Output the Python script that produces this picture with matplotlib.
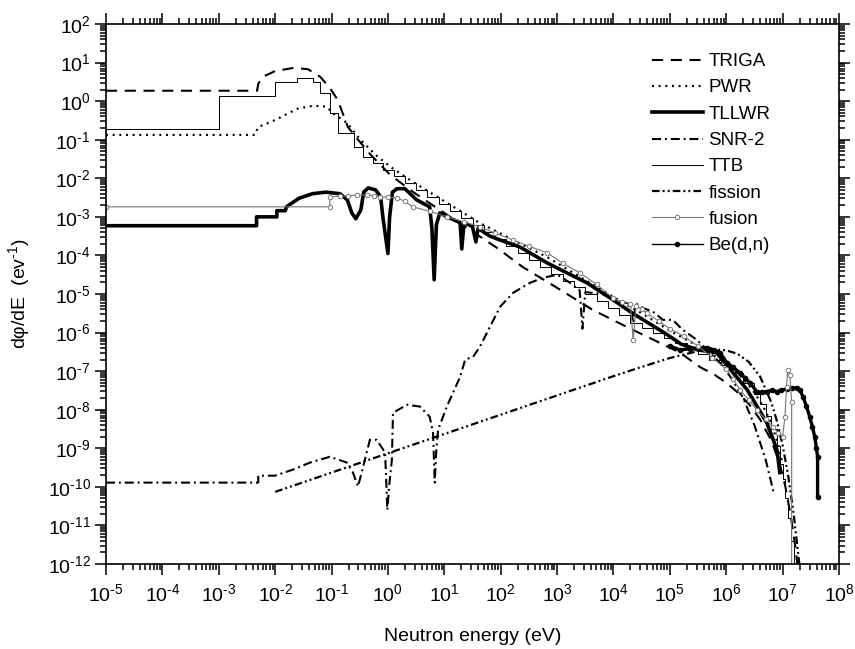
import numpy as np
import matplotlib
matplotlib.use("Agg")
import matplotlib.pyplot as plt
from matplotlib.ticker import LogLocator, NullFormatter, FuncFormatter

plt.rcParams['font.family'] = ['Liberation Sans', 'DejaVu Sans']
plt.rcParams['mathtext.fontset'] = 'custom'
plt.rcParams['mathtext.rm'] = 'Liberation Sans'
plt.rcParams['mathtext.it'] = 'Liberation Sans:italic'
plt.rcParams['mathtext.bf'] = 'Liberation Sans:bold'
plt.rcParams['lines.scale_dashes'] = False

# all values as log10(E/eV) and log10(dphi/dE)
triga_x = [-5, -2.32, -2.3, -2.22, -2.0, -1.68, -1.42, -1.2, -1.03, -0.89, -0.71, -0.53, -0.3,
           0.04, 0.44, 1.0, 1.93, 2.39, 3.0, 3.63, 4.3, 4.8, 5.18, 5.53, 5.8, 6.0, 6.2, 6.4,
           6.6, 6.8, 6.95, 7.05, 7.15, 7.22, 7.27]
triga_y = [0.27, 0.27, 0.45, 0.63, 0.78, 0.86, 0.83, 0.63, 0.34, 0.03, -0.67, -1.0, -1.4,
           -1.91, -2.35, -2.9, -3.8, -4.3, -4.84, -5.41, -5.9, -6.25, -6.52, -6.89, -7.1, -7.3,
           -7.55, -7.85, -8.25, -8.8, -9.4, -10.0, -10.8, -11.5, -12.1]

pwr_x = [-5, -2.36, -2.3, -2.0, -1.61, -1.33, -1.09, -0.98, -0.72, -0.49, -0.19, 0.08, 0.44,
         1.05, 1.63, 2.22, 2.82, 3.4, 3.99, 4.5, 5.0, 5.5, 5.9, 6.2, 6.45, 6.65, 6.8, 6.92, 7.0]
pwr_y = [-0.876, -0.876, -0.67, -0.49, -0.2, -0.12, -0.14, -0.31, -0.57, -1.0, -1.43, -1.74,
         -2.09, -2.64, -3.16, -3.6, -4.04, -4.55, -5.07, -5.5, -5.95, -6.35, -6.7, -7.05, -7.45,
         -7.9, -8.35, -8.9, -9.4]

tllwr_x = [-5, -2.33, -2.33, -1.97, -1.97, -1.82, -1.8, -1.58, -1.34, -1.1, -0.85, -0.72, -0.64,
           -0.57, -0.48, -0.43, -0.35, -0.22, -0.13, -0.09, 0.0, 0.03, 0.08, 0.16, 0.3, 0.51,
           0.74, 0.78, 0.82, 0.86, 0.92, 1.05, 1.28, 1.31, 1.35, 1.5, 1.56, 1.6, 1.81, 1.99,
           2.34, 2.82, 3.17, 3.53, 3.99, 4.34, 4.95, 5.2, 5.5, 5.83, 6.12, 6.37, 6.72, 6.9, 6.95]
tllwr_y = [-3.23, -3.23, -3.0, -3.0, -2.84, -2.84, -2.74, -2.52, -2.4, -2.36, -2.4, -2.56, -2.9,
           -3.05, -2.82, -2.36, -2.25, -2.3, -2.48, -3.0, -3.95, -3.0, -2.36, -2.27, -2.27, -2.56,
           -2.74, -3.3, -4.63, -3.2, -2.9, -3.0, -3.15, -3.83, -3.15, -3.25, -3.65, -3.3, -3.5,
           -3.6, -3.78, -4.19, -4.45, -4.71, -5.15, -5.5, -6.05, -6.3, -6.45, -6.52, -7.04, -7.48,
           -8.34, -9.04, -9.63]

snr_x = [-5, -2.3, -2.3, -2.0, -1.68, -1.38, -1.03, -0.73, -0.62, -0.53, -0.44, -0.32, -0.2,
         -0.05, -0.01, 0.02, 0.07, 0.09, 0.34, 0.57, 0.74, 0.8, 0.83, 0.86, 0.89, 1.05, 1.28,
         1.37, 1.51, 1.63, 1.81, 1.99, 2.22, 2.52, 2.75, 3.0, 3.2, 3.4, 3.45, 3.5, 3.8, 4.1,
         4.3, 4.35, 4.4, 4.52, 4.7, 4.88, 5.05, 5.23, 5.48, 5.7, 5.9, 6.1, 6.3, 6.5, 6.7, 6.85]
snr_y = [-9.89, -9.89, -9.71, -9.71, -9.55, -9.37, -9.22, -9.37, -9.63, -9.99, -9.48, -8.78,
         -8.78, -9.11, -10.6, -10.0, -9.3, -8.08, -7.87, -7.92, -8.18, -8.6, -9.89, -9.0, -8.52,
         -7.9, -7.15, -6.7, -6.63, -6.37, -5.85, -5.33, -4.97, -4.71, -4.58, -4.5, -4.68, -4.9,
         -5.9, -4.95, -5.0, -5.2, -5.25, -5.75, -5.25, -5.36, -5.46, -5.67, -5.67, -5.93, -6.19,
         -6.5, -6.8, -7.2, -7.7, -8.4, -9.3, -10.2]

# TTB is a histogram: left bin edges and bin values
ttb_x = [-5, -3, -2, -1.62, -1.32, -1.2, -1.02, -0.89, -0.6, -0.44, -0.27, -0.09, 0.1, 0.3,
         0.5, 0.7, 0.9, 1.1, 1.3, 1.5, 1.7, 1.9, 2.1, 2.3, 2.5, 2.7, 2.9, 3.1, 3.3, 3.5, 3.7,
         3.9, 4.1, 4.3, 4.5, 4.7, 4.9, 5.1, 5.3, 5.5, 5.7, 5.9, 6.1, 6.3, 6.5, 6.6, 6.7, 6.8,
         6.9, 6.95, 7.0, 7.05, 7.1, 7.15, 7.2]
ttb_y = [-0.72, 0.135, 0.5, 0.6, 0.49, 0.2, -0.31, -0.82, -1.19, -1.45, -1.6, -1.78, -1.95,
         -2.13, -2.31, -2.49, -2.67, -2.85, -3.03, -3.21, -3.39, -3.57, -3.75, -3.93, -4.11,
         -4.29, -4.47, -4.65, -4.83, -5.01, -5.19, -5.37, -5.55, -5.75, -5.88, -6.0, -6.15,
         -6.28, -6.42, -6.56, -6.7, -6.85, -7.05, -7.3, -7.6, -7.85, -8.15, -8.5, -8.95, -9.4,
         -9.8, -10.3, -10.8, -11.4, -12.0]

fission_x = [-2.0, -1.0, 0.0, 1.0, 2.0, 3.0, 4.0, 4.5, 5.0, 5.5, 5.8, 6.0, 6.2, 6.4, 6.6, 6.8,
             6.9, 7.0, 7.1, 7.2, 7.3]
fission_y = [-10.13, -9.63, -9.13, -8.63, -8.13, -7.63, -7.13, -6.89, -6.66, -6.48, -6.44, -6.46,
             -6.55, -6.76, -7.14, -7.81, -8.3, -8.92, -9.72, -10.75, -12.05]

fusion_x = [-5, -1.03, -1.03, -0.85, -0.7, -0.55, -0.37, -0.25, -0.14, 0.0, 0.16, 0.3, 0.44,
            0.75, 1.05, 1.35, 1.63, 1.9, 2.22, 2.5, 2.82, 3.1, 3.4, 3.7, 3.99, 4.15, 4.3, 4.35,
            4.4, 4.5, 4.6, 4.8, 5.0, 5.25, 5.5, 5.75, 6.0, 6.12, 6.24, 6.4, 6.54, 6.7, 6.83,
            6.92, 7.0, 7.04, 7.07, 7.09, 7.13, 7.16, 7.16]
fusion_y = [-2.74, -2.74, -2.48, -2.47, -2.45, -2.44, -2.43, -2.45, -2.48, -2.49, -2.5, -2.6,
            -2.74, -2.86, -3.0, -3.13, -3.26, -3.42, -3.6, -3.76, -3.93, -4.2, -4.45, -4.75,
            -5.1, -5.2, -5.25, -6.2, -5.3, -5.4, -5.5, -5.7, -5.9, -6.1, -6.35, -6.65, -6.95,
            -7.2, -7.48, -7.75, -8.0, -8.25, -8.44, -8.6, -8.7, -8.2, -7.4, -6.96, -7.1, -7.8,
            -12.1]

bedn_x = [5.0, 5.18, 5.35, 5.5, 5.66, 5.78, 5.89, 6.01, 6.12, 6.24, 6.33, 6.42, 6.54, 6.63,
          6.72, 6.81, 6.9, 6.98, 7.07, 7.16, 7.25, 7.31, 7.36, 7.42, 7.48, 7.53, 7.57, 7.6,
          7.62, 7.62]
bedn_y = [-6.35, -6.45, -6.42, -6.4, -6.39, -6.45, -6.52, -6.78, -6.9, -7.04, -7.17, -7.3,
          -7.53, -7.55, -7.53, -7.5, -7.53, -7.5, -7.46, -7.44, -7.43, -7.5, -7.66, -7.9, -8.18,
          -8.45, -8.7, -9.0, -9.22, -10.25]


def lin(v):
    return np.power(10.0, np.array(v))


def pow_label(val, pos):
    e = int(round(np.log10(val)))
    return r'10$^{\text{%d}}$' % e


fig = plt.figure(figsize=(8.55, 6.49), dpi=100)
ax = fig.add_axes([106 / 855, 1 - 564 / 649, 733 / 855, 540 / 649])

h_triga, = ax.plot(lin(triga_x), lin(triga_y), color='black', lw=1.5, dashes=(8, 5.5), label='TRIGA')
h_pwr, = ax.plot(lin(pwr_x), lin(pwr_y), color='black', lw=1.6, dashes=(1.4, 3.4), label='PWR')
h_tllwr, = ax.plot(lin(tllwr_x), lin(tllwr_y), color='black', lw=2.6, label='TLLWR')
h_snr, = ax.plot(lin(snr_x), lin(snr_y), color='black', lw=1.5, dashes=(6.5, 2.8, 1.4, 2.8), label='SNR-2')
h_ttb, = ax.plot(lin(ttb_x), lin(ttb_y), color='black', lw=0.7, drawstyle='steps-post', label='TTB')
h_fis, = ax.plot(lin(fission_x), lin(fission_y), color='black', lw=1.6,
                 dashes=(5.5, 2.2, 1.4, 2.2, 1.4, 2.2), label='fission')
ax.plot(lin(bedn_x), lin(bedn_y), color='black', lw=2.4)
h_be, = ax.plot(lin(bedn_x), lin(bedn_y), color='black', lw=1.0, marker='o', ms=3,
                mfc='black', mec='black', label='Be(d,n)')
h_fus, = ax.plot(lin(fusion_x), lin(fusion_y), color='#777777', lw=0.8, marker='o', ms=3.2,
                 mfc='white', mec='#777777', mew=0.7, label='fusion')

ax.set_xscale('log')
ax.set_yscale('log')
ax.set_xlim(1e-5, 1e8)
ax.set_ylim(1e-12, 1e2)

for axis in (ax.xaxis, ax.yaxis):
    axis.set_major_locator(LogLocator(base=10, numticks=30))
    axis.set_minor_locator(LogLocator(base=10, subs=np.arange(2, 10), numticks=30))
    axis.set_major_formatter(FuncFormatter(pow_label))
    axis.set_minor_formatter(NullFormatter())

ax.tick_params(which='both', direction='out', width=1.1, labelsize=14,
               top=True, right=True, labeltop=False, labelright=False)
ax.tick_params(which='major', length=8)
ax.tick_params(which='minor', length=4)
ax.tick_params(axis='x', pad=6)
ax.tick_params(axis='y', pad=3)
for sp in ax.spines.values():
    sp.set_linewidth(1.2)

ax.set_xlabel('Neutron energy (eV)', fontsize=14)
ax.xaxis.set_label_coords(0.5, -0.118)
ax.set_ylabel(r'd$\mathregular{\varphi}$/dE  (ev$^{\text{-1}}$)', fontsize=14)
ax.yaxis.set_label_coords(-0.101, 0.5)

ax.legend(handles=[h_triga, h_pwr, h_tllwr, h_snr, h_ttb, h_fis, h_fus, h_be],
          loc='upper left', bbox_to_anchor=(652 / 855, 1 - 53 / 649),
          bbox_transform=fig.transFigure, frameon=False, fontsize=13.5,
          borderpad=0, borderaxespad=0, handlelength=2.7, handletextpad=0.3,
          labelspacing=0.49, numpoints=1)

fig.savefig('out.png', dpi=100)
